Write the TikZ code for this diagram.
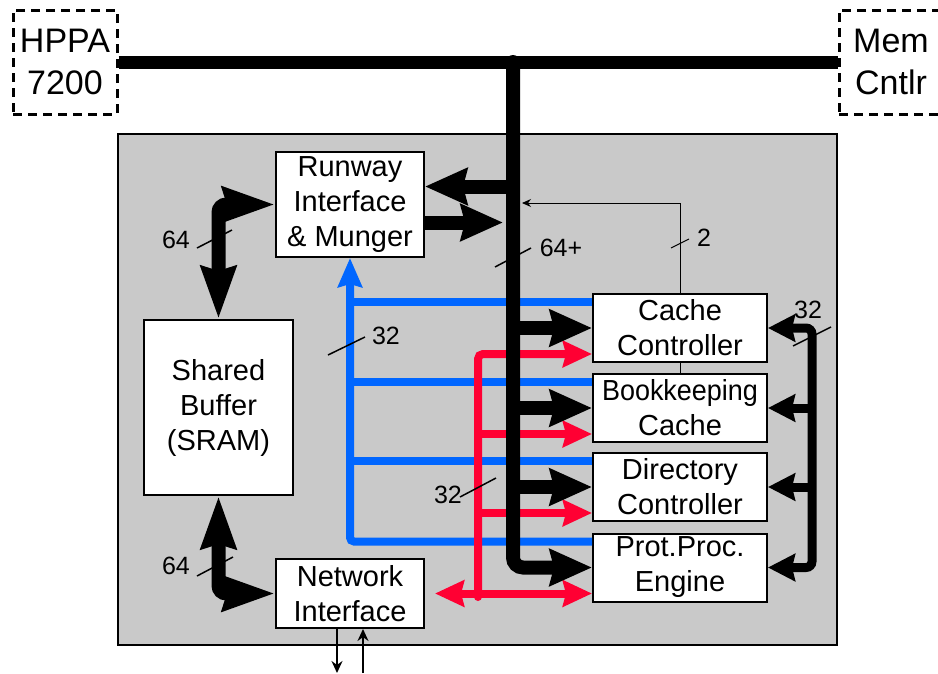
\documentclass[tikz,border=0pt]{standalone}
\usepackage{fontspec}
\setmainfont{Liberation Sans}
\usetikzlibrary{arrows.meta}

\definecolor{busblue}{RGB}{0,102,255}
\definecolor{busred}{RGB}{255,0,51}

\begin{document}
\begin{tikzpicture}[x=1pt, y=-1pt,
  bigtip/.tip={Stealth[length=42pt, width=36pt, inset=4pt]},
  longtip/.tip={Stealth[length=52pt, width=34pt, inset=4pt]},
  redtip/.tip={Stealth[length=29pt, width=26pt, inset=3pt]},
  bluetip/.tip={Stealth[length=29pt, width=24pt, inset=3pt]},
  sidetip/.tip={Stealth[length=27pt, width=27pt, inset=3pt]},
  chip/.style={draw, dash pattern=on 9pt off 6pt, line width=3pt, minimum width=104pt,
    minimum height=104pt, inner sep=0pt, align=center, font=\fontsize{34}{42}\selectfont},
  box/.style={draw, line width=2pt, fill=white, inner sep=0pt, align=center,
    font=\fontsize{29}{35}\selectfont},
  unit/.style={box, minimum width=174pt, minimum height=68pt},
  lbl/.style={inner sep=0pt, font=\fontsize{25}{30}\selectfont},
  tick/.style={line width=1.5pt},
  fat/.style={line width=14pt},
  bluebus/.style={busblue, line width=8pt},
  redbus/.style={busred, line width=8pt},
  sidebus/.style={line width=9pt}]
  \useasboundingbox (0,0) rectangle (938,673);

  \node[chip] (hppa) at (65,62) {HPPA\\7200};
  \node[chip] (mem) at (891,62) {Mem\\Cntlr};
  \filldraw[fill=black!21, line width=2pt] (118,134) rectangle (837,645);

  \node[box, minimum width=148pt, minimum height=105pt] (runway) at (350,204.5) {Runway\\Interface\\\& Munger};
  \node[box, minimum width=149pt, minimum height=175pt] (shared) at (218.5,407.5) {Shared\\Buffer\\(SRAM)};
  \node[box, minimum width=148pt, minimum height=69pt] (net) at (350,593.5) {Network\\Interface};
  \node[unit] (cc) at (680,328) {Cache\\Controller};
  \node[unit] (bk) at (680,408) {\scalebox{0.93}[1]{Bookkeeping}\\Cache};
  \node[unit] (dc) at (680,487) {Directory\\Controller};
  \node[unit] (pp) at (680,567.5) {Prot.Proc.\\Engine};

  \coordinate (tap) at (513,62);
  \coordinate (fb) at (522,203);
  \coordinate (rdrop) at (478,597);
  \coordinate (rb) at (812,0);
  \coordinate (out) at (337,673);
  \coordinate (in) at (363,673);
  \coordinate (ru) at ([yshift=18pt]runway.east);
  \coordinate (rd) at ([yshift=-18pt]runway.east);
  \foreach \b in {cc,bk,dc,pp} {
    \coordinate (\b-b) at ([yshift=26pt]\b.west);
    \coordinate (\b-r) at ([yshift=-26pt]\b.west);
  }

  % status lines
  \draw[line width=1pt] (bk.north) -- (cc.south);
  \draw[line width=1pt, -{Stealth[length=9pt, width=8pt]}] (cc.north) |- (fb);

  % blue bus
  \draw[bluebus, rounded corners=4pt, -bluetip] (pp-b) -| (runway.south);
  \foreach \b in {cc,bk,dc}
    \draw[bluebus] (\b-b -| runway.south) -- (\b-b);

  % red bus
  \draw[redbus, rounded corners=5pt, line cap=round, -redtip] (rdrop) |- (cc-r);
  \foreach \b in {bk,dc}
    \draw[redbus, -redtip] (\b-r -| rdrop) -- (\b-r);
  \draw[redbus, redtip-redtip, shorten <=10pt] (net.east) -- (pp-r);

  % runway bus
  \draw[line width=13pt] (hppa) -- (mem);
  \draw[fat, rounded corners=10pt, line cap=round, -bigtip] (tap) |- (pp.west);
  \foreach \b in {cc,bk,dc}
    \draw[fat, -bigtip] (\b.west -| tap) -- (\b.west);
  \draw[fat, -bigtip] (ru -| tap) -- (ru);
  \draw[fat, -bigtip, shorten >=10pt] (rd) -- (rd -| tap);

  \draw[fat, rounded corners=8pt, longtip-longtip] (shared.north) |- (runway.west);
  \draw[fat, rounded corners=8pt, longtip-longtip] (shared.south) |- (net.west);

  \draw[sidebus, rounded corners=6pt, sidetip-sidetip] (cc.east) -| (rb |- pp.east) -- (pp.east);
  \foreach \b in {bk,dc}
    \draw[sidebus, -sidetip] (\b.east -| rb) -- (\b.east);

  \draw[line width=1.5pt, -{Stealth[length=12pt, width=11pt]}] (net.south -| out) -- (out);
  \draw[line width=1.5pt, -{Stealth[length=12pt, width=11pt]}] (in) -- (net.south -| in);

  % widths
  \node[lbl] (w64a) at (176,240) {64};
  \draw[tick] (197,248) -- (232,230);
  \node[lbl] (w64b) at (176,566) {64};
  \draw[tick] (197,576) -- (233,557);
  \node[lbl] (w64p) at (561,248) {64+};
  \draw[tick] (495,267) -- (531,248);
  \node[lbl] (w2) at (704,238) {2};
  \draw[tick, line width=1pt] (671,248) -- (689,239);
  \node[lbl] (w32b) at (386,336) {32};
  \draw[tick] (328,355) -- (365,337);
  \node[lbl] (w32r) at (448,495) {32};
  \draw[tick] (460,497) -- (496,478);
  \node[lbl] (w32s) at (808,310) {32};
  \draw[tick] (793,346) -- (831,327);
\end{tikzpicture}
\end{document}
